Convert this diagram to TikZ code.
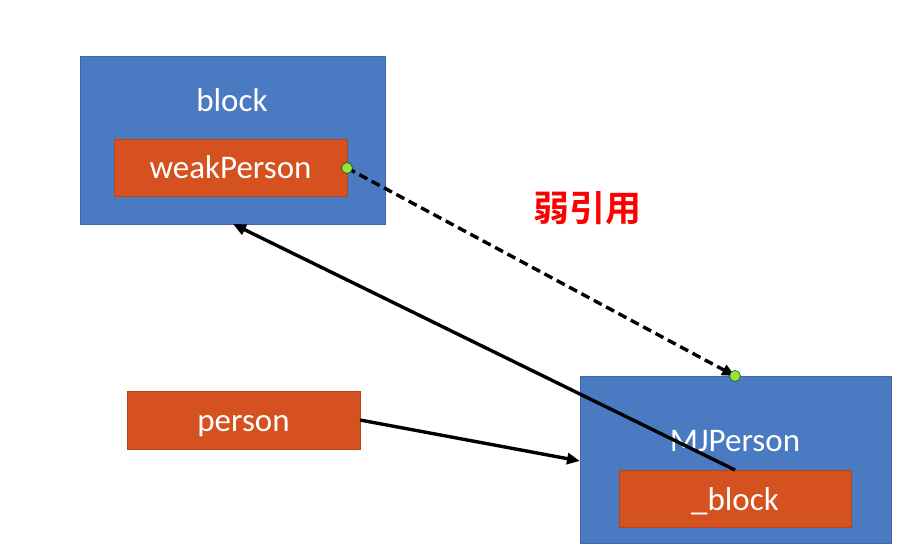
\documentclass[tikz,border=0pt]{standalone}
\usepackage{fontspec}
\setmainfont{Carlito}
\newfontfamily\cjk{Noto Sans CJK SC}[BoldFont={* Bold}]
\usetikzlibrary{arrows.meta}
\definecolor{bblue}{HTML}{4A7BC2}
\definecolor{bblueE}{HTML}{3F68A6}
\definecolor{borange}{HTML}{D5511F}
\definecolor{borangeE}{HTML}{B5441A}
\definecolor{dotgreen}{HTML}{9BE040}
\begin{document}
\begin{tikzpicture}[x=1pt,y=-1pt,
  outer/.style={draw=bblueE,fill=bblue,line width=0.8pt},
  inner/.style={draw=borangeE,fill=borange,line width=0.8pt},
  lbl/.style={text=white,font=\fontsize{33}{36}\selectfont,anchor=base},
  conn/.style={line width=3.4pt,-{Triangle[length=13pt,width=11pt]}},
  gdot/.style={circle,fill=dotgreen,draw=green!40!black,line width=0.6pt,inner sep=0pt,minimum size=11pt}]
\useasboundingbox (0,0) rectangle (916,548);
\fill[white] (0,0) rectangle (916,548);
% block
\draw[outer] (80,56) rectangle (385,224);
\node[lbl] (blocklbl) at (232,112) {block};
\coordinate (blockbot) at (233,224);
\draw[inner] (114,139) rectangle (347,196);
\node[lbl] (weak) at (230.5,179) {weakPerson};
\coordinate (weakR) at (347,168);
% person
\draw[inner] (127,391) rectangle (360,449);
\node[lbl] (person) at (243.5,431) {person};
\coordinate (personR) at (360,420);
% MJPerson
\draw[outer] (580,376) rectangle (891,543);
\node[lbl] (mj) at (735,451) {MJPerson};
\coordinate (mjtop) at (735,376);
\coordinate (mjleft) at (580,461);
\draw[inner] (619,470) rectangle (851,527);
\node[lbl] (ub) at (735,510) {\_block};
\coordinate (ubtop) at (735,470);
% connectors
\draw[conn] (ubtop) -- (blockbot);
\draw[conn] (personR) -- (mjleft);
\draw[conn,dash pattern=on 9pt off 5pt] (weakR) -- (mjtop);
\node[gdot] (d1) at (weakR) {};
\node[gdot] (d2) at (mjtop) {};
% label
\node[text=red,font=\cjk\bfseries\fontsize{36}{38}\selectfont] (weaklbl) at (587,208) {弱引用};
\end{tikzpicture}
\end{document}
